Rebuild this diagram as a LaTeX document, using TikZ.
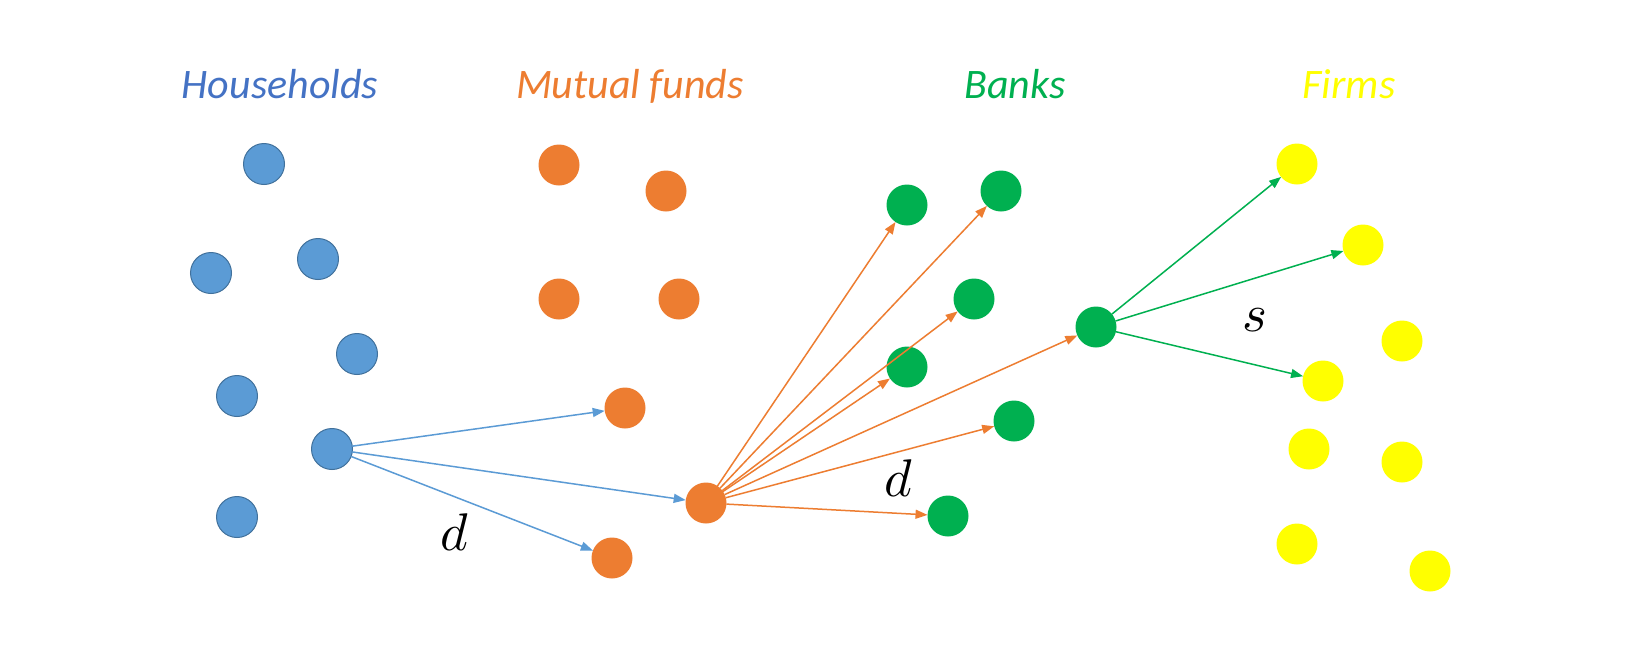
\documentclass[tikz,border=0pt]{standalone}
\usepackage{fontspec}
\setmainfont{Carlito}
\usetikzlibrary{arrows.meta}
\definecolor{hblue}{HTML}{5B9BD5}
\definecolor{hbluedark}{HTML}{41719C}
\definecolor{htitle}{HTML}{4472C4}
\definecolor{morange}{HTML}{ED7D31}
\definecolor{bgreen}{HTML}{00B050}
\definecolor{fyellow}{HTML}{FFFF00}
\tikzset{
  agent/.style={circle, inner sep=0pt, outer sep=0pt, minimum size=41pt},
  hh/.style={agent, fill=hblue, draw=hbluedark, line width=1pt},
  mf/.style={agent, fill=morange},
  bk/.style={agent, fill=bgreen},
  fm/.style={agent, fill=fyellow},
  title/.style={anchor=base, font=\fontsize{42}{48}\selectfont\itshape},
  lab/.style={scale=5.3, inner sep=0pt},
  flow/.style={line width=1.5pt, -{Triangle[length=12pt,width=9pt]}},
}
\begin{document}
\begin{tikzpicture}[x=1pt,y=-1pt]
\useasboundingbox[fill=white] (0,0) rectangle (1626,670);
% titles
\node[title, text=htitle] (th) at (280,98) {Households};
\node[title, text=morange] (tm) at (630,98) {Mutual funds};
\node[title, text=bgreen] (tb) at (1015,98) {Banks};
\node[title, text=fyellow] (tf) at (1349,98) {Firms};
% households
\node[hh] (h1) at (264,164) {};
\node[hh] (h2) at (211,273) {};
\node[hh] (h3) at (318,259) {};
\node[hh] (h4) at (357,354) {};
\node[hh] (h5) at (237,396) {};
\node[hh] (h6) at (332,449) {};
\node[hh] (h7) at (237,517) {};
% mutual funds
\node[mf] (m1) at (559,165) {};
\node[mf] (m2) at (666,191) {};
\node[mf] (m3) at (559,299) {};
\node[mf] (m4) at (679,299) {};
\node[mf] (m5) at (625,408) {};
\node[mf] (m6) at (706,503) {};
\node[mf] (m7) at (612,558) {};
% banks
\node[bk] (b1) at (907,205) {};
\node[bk] (b2) at (1001,191) {};
\node[bk] (b3) at (974,299) {};
\node[bk] (b4) at (907,367) {};
\node[bk] (b5) at (1014,421) {};
\node[bk] (b6) at (948,516) {};
\node[bk] (b7) at (1096,327) {};
% firms
\node[fm] (f1) at (1297,164) {};
\node[fm] (f2) at (1363,245) {};
\node[fm] (f3) at (1402,341) {};
\node[fm] (f4) at (1323,381) {};
\node[fm] (f5) at (1309,449) {};
\node[fm] (f6) at (1402,462) {};
\node[fm] (f7) at (1297,544) {};
\node[fm] (f8) at (1430,571) {};
% flows
\draw[flow, hblue] (h6) -- (m5);
\draw[flow, hblue] (h6) -- (m6);
\draw[flow, hblue] (h6) -- (m7);
\foreach \t in {b1,b2,b3,b4,b7,b5,b6}
  \draw[flow, morange] (m6) -- (\t);
\draw[flow, bgreen] (b7) -- (f1);
\draw[flow, bgreen] (b7) -- (f2);
\draw[flow, bgreen] (b7) -- (f4);
% labels
\node[lab] (d1) at (454,532) {$d$};
\node[lab] (d2) at (898,478) {$d$};
\node[lab] (s1) at (1255,320) {$s$};
\end{tikzpicture}
\end{document}
